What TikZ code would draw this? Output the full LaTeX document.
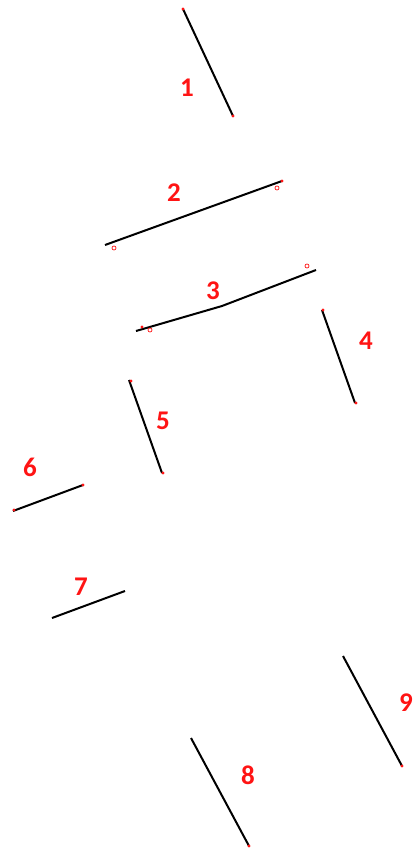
\documentclass[tikz,border=0pt]{standalone}
\usepackage{fontspec}
\setmainfont{Carlito}
\usepackage{xcolor}
\usetikzlibrary{calc}
\definecolor{markred}{RGB}{255,20,20}
\tikzset{
  seg/.style={line width=2pt, black},
  num/.style={text=markred, font=\bfseries\fontsize{27}{27}\selectfont, inner sep=0pt},
  dot/.style={fill=markred, draw=none},
  ring/.style={draw=markred, line width=0.7pt}
}

\begin{document}
\begin{tikzpicture}[x=1pt,y=-1pt]
  \useasboundingbox (0,0) rectangle (414,850);
  % straight segments
  \foreach \n/\xa/\ya/\xb/\yb in {1/183/9/233/116, 2/105/245/282/181, 4/322/310/355/403,
      5/129/380/162/473, 6/13/511/83/485, 7/52/618/125/591, 8/191/738/249/846, 9/343/656/402/766}{
    \coordinate (A\n) at (\xa,\ya);
    \coordinate (B\n) at (\xb,\yb);
    \draw[seg] (A\n) -- (B\n);
  }
  % segment 3 has a small bend
  \coordinate (A3) at (136,331);
  \coordinate (M3) at (222,306);
  \coordinate (B3) at (316,270);
  \draw[seg] (A3) -- (M3) -- (B3);
  % labels
  \foreach \n/\x/\y in {1/187/88, 2/174/193, 3/213/291, 4/366/341, 5/163/421,
      6/30/467, 7/81/587, 8/248/775, 9/406/703}{
    \node[num] (L\n) at (\x,\y) {\n};
  }
  % red end marks
  \foreach \x/\y in {183/9, 233/116, 282/181, 323/310, 356/403, 131/381, 163/473,
      14/510, 83/485, 249/846, 402/766, 142/327}{
    \fill[dot] (\x,\y) circle (1.6);
  }
  \foreach \x/\y in {114/248, 277/188, 307/266, 150/330}{
    \draw[ring] (\x,\y) circle (2);
  }
\end{tikzpicture}
\end{document}
